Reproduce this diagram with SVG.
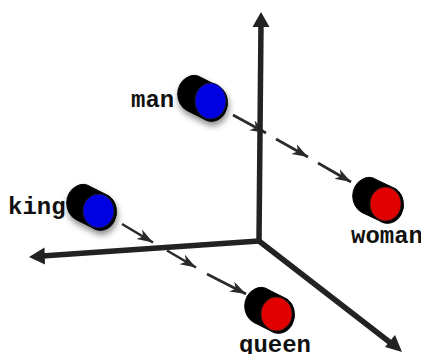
<svg xmlns="http://www.w3.org/2000/svg" width="421" height="354" viewBox="0 0 421 354">
<style>
.axis{stroke:#222;stroke-width:5.5;fill:none}
.head{fill:#222;stroke:none}
.dash{stroke:#2a2a2a;stroke-width:2.6;fill:none;marker-end:url(#arrow)}
.plain{stroke:#2a2a2a;stroke-width:2.6;fill:none}
.back{fill:#000;stroke:#000;stroke-width:1}
.blue{fill:#0000e0;stroke:#222;stroke-width:.8}
.red{fill:#e00000;stroke:#222;stroke-width:.8}
text{font-family:"Liberation Mono","Courier New",monospace;font-size:24px;font-weight:bold;fill:#111}
</style>
<defs>
<marker id="arrow" markerUnits="userSpaceOnUse" markerWidth="18" markerHeight="14" refX="16" refY="7" orient="auto">
<path d="M0 1.5L16 7L0 12.5L4.5 7Z" fill="#2a2a2a"/>
</marker>
<filter id="shadow" x="-30%" y="-30%" width="170%" height="170%">
<feDropShadow dx="1" dy="4" stdDeviation="3" flood-color="#000" flood-opacity=".45"/>
</filter>
<g id="cyl">
<path class="back" d="M-5.5 -25.5A15.5 18 0 0 0 -15 7.500L7 19.5A15.500 18 0 0 0 15.5 -9.5L-5.5 -25.5Z" transform="translate(0,0)"/>
</g>
</defs>
<g id="connectors">
<line class="plain" x1="122" y1="224" x2="153" y2="242.500" marker-end="url(#arrow)" style="marker-end:url(#arrow)"/>
<line class="plain" x1="167" y1="250.500" x2="196" y2="267.500" style="marker-end:url(#arrow)"/>
<line class="plain" x1="207" y1="274" x2="246" y2="294" style="marker-end:url(#arrow)"/>
<line class="plain" x1="233" y1="115" x2="266" y2="133" style="marker-end:url(#arrow)"/>
<line class="plain" x1="276" y1="139" x2="308" y2="157" style="marker-end:url(#arrow)"/>
<line class="plain" x1="318" y1="163" x2="351" y2="182" style="marker-end:url(#arrow)"/>
<line class="axis" x1="259" y1="241" x2="261" y2="24"/>
<path class="head" d="M261 12L269.500 27L252.500 27Z"/>
<line class="axis" x1="259" y1="241" x2="42" y2="256"/>
<path class="head" d="M29 257L44.500 247.500L45 264.500Z"/>
<line class="axis" x1="259" y1="241" x2="392" y2="344"/>
<path class="head" d="M402 352L385 347L395 335Z"/>
</g>
<g id="man">
<path class="back" filter="url(#shadow)" d="M187 77.500A15.500 18 0 0 0 187 110.500L203 118.500A15.500 18 0 0 0 220 87L202 78A15.500 18 0 0 0 187 77.500Z"/>
<ellipse class="blue" cx="210.500" cy="101" rx="15.500" ry="18"/>
<text x="131" y="107">man</text>
</g>
<g id="king">
<path class="back" filter="url(#shadow)" d="M76 186.500A15.500 18 0 0 0 76 219.500L92 227.500A15.500 18 0 0 0 109 196L91 187A15.500 18 0 0 0 76 186.500Z"/>
<ellipse class="blue" cx="98.500" cy="211" rx="15.500" ry="17"/>
<text x="8" y="214">king</text>
</g>
<g id="queen">
<path class="back" d="M254 289.500A15.500 18 0 0 0 254 322.500L270 330.500A15.500 18 0 0 0 287 299L269 290A15.500 18 0 0 0 254 289.500Z"/>
<ellipse class="red" cx="276.500" cy="314" rx="15.500" ry="17"/>
<text x="239" y="352">queen</text>
</g>
<g id="woman">
<path class="back" d="M362 179.500A15.500 18 0 0 0 362 212.500L379 220.500A15.500 18 0 0 0 396 189L377 180A15.500 18 0 0 0 362 179.500Z"/>
<ellipse class="red" cx="385.500" cy="204" rx="15.500" ry="17"/>
<text x="351" y="243">woman</text>
</g>
</svg>
